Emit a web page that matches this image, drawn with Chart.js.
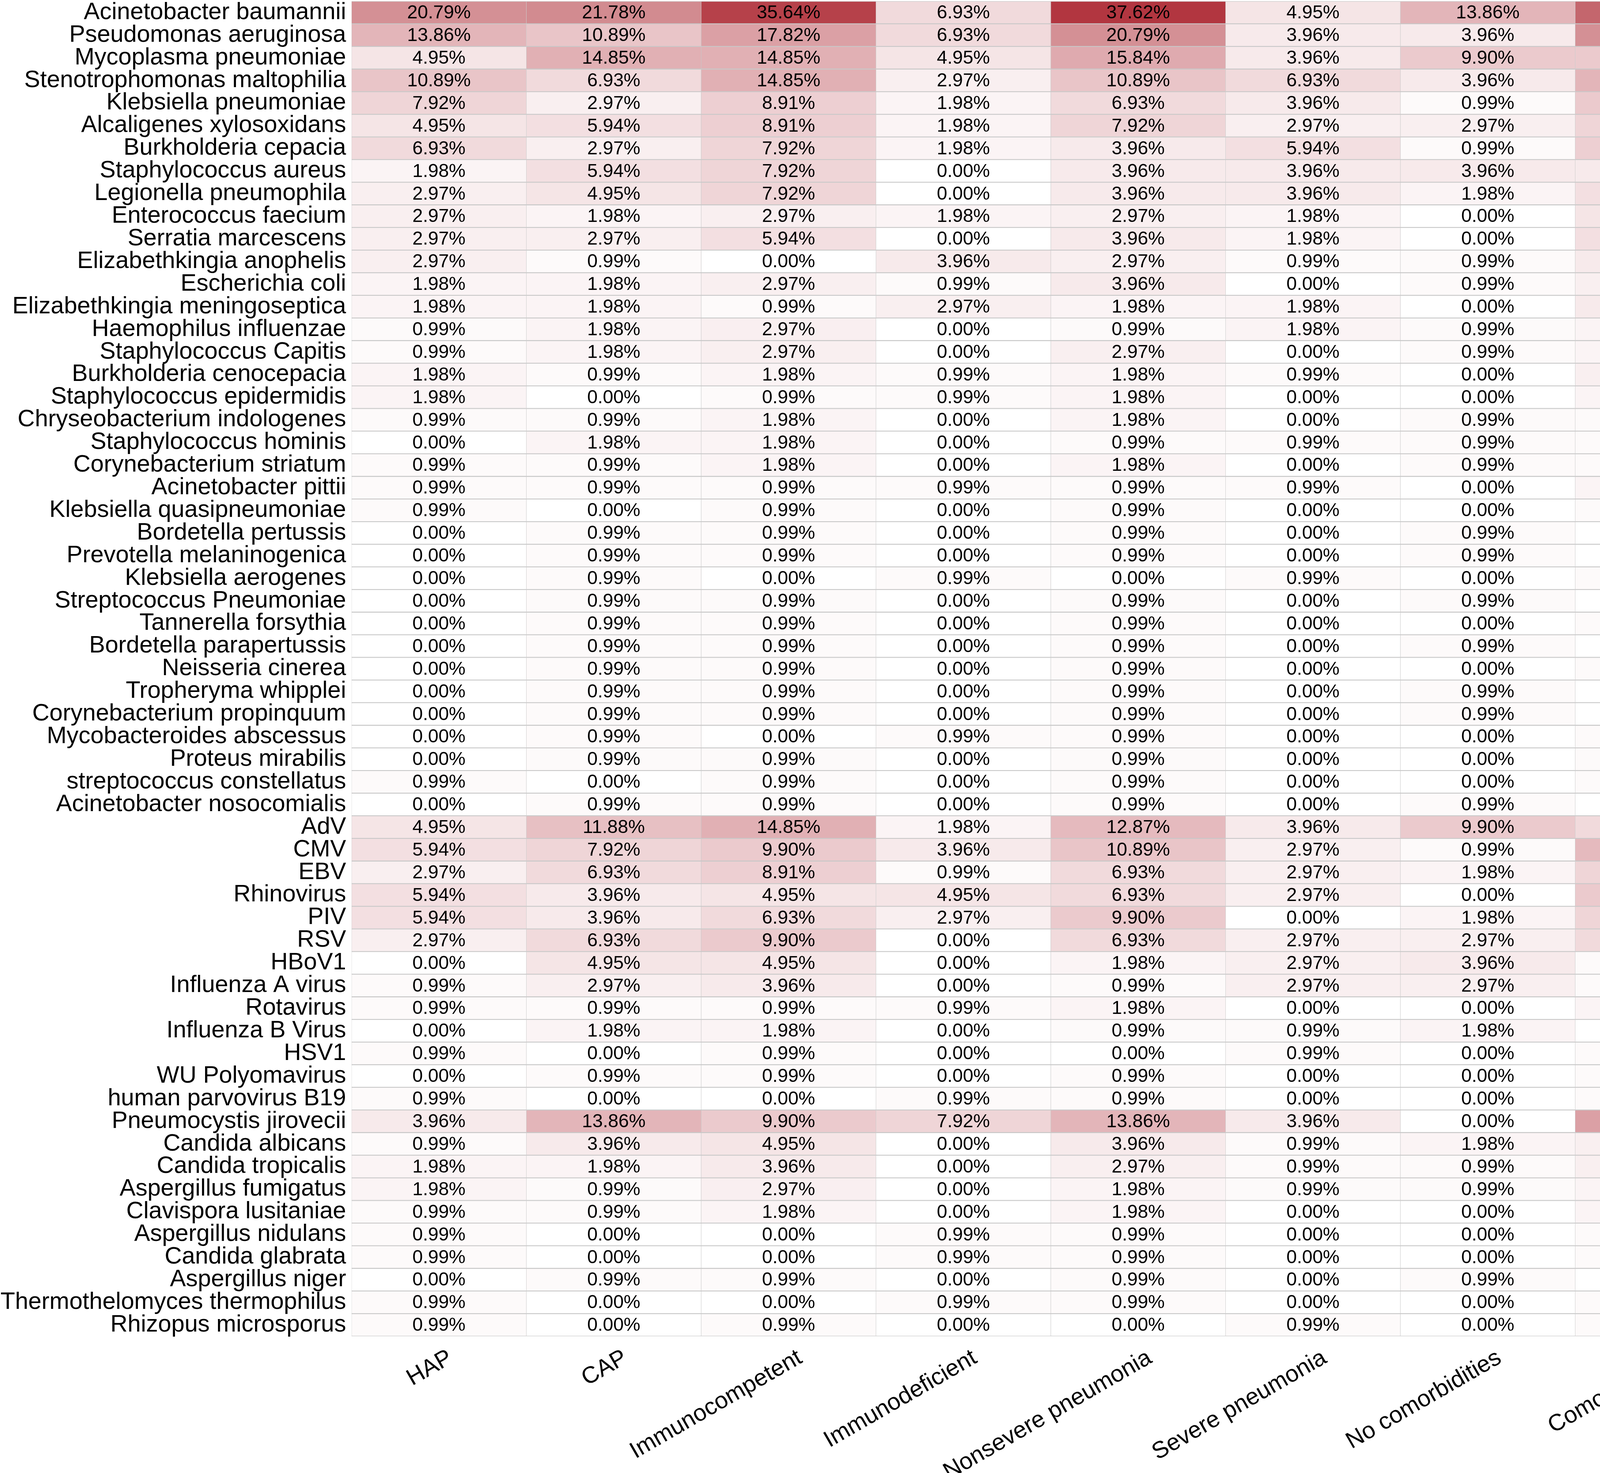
<!DOCTYPE html>
<html>
<head>
<meta charset="utf-8">
<script src="https://cdn.jsdelivr.net/npm/chart.js@4"></script>
<style>
  body { margin: 0; background: #fff; }
  canvas { display: block; }
</style>
</head>
<body>
<canvas id="heatmap" width="4630" height="3770"></canvas>
<script>
const species = [
  "Acinetobacter baumannii", "Pseudomonas aeruginosa", "Mycoplasma pneumoniae",
  "Stenotrophomonas maltophilia", "Klebsiella pneumoniae", "Alcaligenes xylosoxidans",
  "Burkholderia cepacia", "Staphylococcus aureus", "Legionella pneumophila",
  "Enterococcus faecium", "Serratia marcescens", "Elizabethkingia anophelis",
  "Escherichia coli", "Elizabethkingia meningoseptica", "Haemophilus influenzae",
  "Staphylococcus Capitis", "Burkholderia cenocepacia", "Staphylococcus epidermidis",
  "Chryseobacterium indologenes", "Staphylococcus hominis", "Corynebacterium striatum",
  "Acinetobacter pittii", "Klebsiella quasipneumoniae", "Bordetella pertussis",
  "Prevotella melaninogenica", "Klebsiella aerogenes", "Streptococcus Pneumoniae",
  "Tannerella forsythia", "Bordetella parapertussis", "Neisseria cinerea",
  "Tropheryma whipplei", "Corynebacterium propinquum", "Mycobacteroides abscessus",
  "Proteus mirabilis", "streptococcus constellatus", "Acinetobacter nosocomialis",
  "AdV", "CMV", "EBV", "Rhinovirus", "PIV", "RSV", "HBoV1", "Influenza A virus",
  "Rotavirus", "Influenza B Virus", "HSV1", "WU Polyomavirus", "human parvovirus B19",
  "Pneumocystis jirovecii", "Candida albicans", "Candida tropicalis",
  "Aspergillus fumigatus", "Clavispora lusitaniae", "Aspergillus nidulans",
  "Candida glabrata", "Aspergillus niger", "Thermothelomyces thermophilus",
  "Rhizopus microsporus"
];

const groups = ["HAP", "CAP", "Immunocompetent", "Immunodeficient",
  "Nonsevere pneumonia", "Severe pneumonia", "No comorbidities", "Comorbidities"];

// percentages, one array per column, rows in the order of species
const hap = [20.79, 13.86, 4.95, 10.89, 7.92, 4.95, 6.93, 1.98, 2.97, 2.97, 2.97, 2.97, 1.98, 1.98, 0.99, 0.99, 1.98, 1.98, 0.99, 0.00, 0.99, 0.99, 0.99, 0.00, 0.00, 0.00, 0.00, 0.00, 0.00, 0.00, 0.00, 0.00, 0.00, 0.00, 0.99, 0.00,
  4.95, 5.94, 2.97, 5.94, 5.94, 2.97, 0.00, 0.99, 0.99, 0.00, 0.99, 0.00, 0.99,
  3.96, 0.99, 1.98, 1.98, 0.99, 0.99, 0.99, 0.00, 0.99, 0.99];
const cap = [21.78, 10.89, 14.85, 6.93, 2.97, 5.94, 2.97, 5.94, 4.95, 1.98, 2.97, 0.99, 1.98, 1.98, 1.98, 1.98, 0.99, 0.00, 0.99, 1.98, 0.99, 0.99, 0.00, 0.99, 0.99, 0.99, 0.99, 0.99, 0.99, 0.99, 0.99, 0.99, 0.99, 0.99, 0.00, 0.99,
  11.88, 7.92, 6.93, 3.96, 3.96, 6.93, 4.95, 2.97, 0.99, 1.98, 0.00, 0.99, 0.00,
  13.86, 3.96, 1.98, 0.99, 0.99, 0.00, 0.00, 0.99, 0.00, 0.00];
const immunocompetent = [35.64, 17.82, 14.85, 14.85, 8.91, 8.91, 7.92, 7.92, 7.92, 2.97, 5.94, 0.00, 2.97, 0.99, 2.97, 2.97, 1.98, 0.99, 1.98, 1.98, 1.98, 0.99, 0.99, 0.99, 0.99, 0.00, 0.99, 0.99, 0.99, 0.99, 0.99, 0.99, 0.00, 0.99, 0.99, 0.99,
  14.85, 9.90, 8.91, 4.95, 6.93, 9.90, 4.95, 3.96, 0.99, 1.98, 0.99, 0.99, 0.00,
  9.90, 4.95, 3.96, 2.97, 1.98, 0.00, 0.00, 0.99, 0.00, 0.99];
const immunodeficient = [6.93, 6.93, 4.95, 2.97, 1.98, 1.98, 1.98, 0.00, 0.00, 1.98, 0.00, 3.96, 0.99, 2.97, 0.00, 0.00, 0.99, 0.99, 0.00, 0.00, 0.00, 0.99, 0.00, 0.00, 0.00, 0.99, 0.00, 0.00, 0.00, 0.00, 0.00, 0.00, 0.99, 0.00, 0.00, 0.00,
  1.98, 3.96, 0.99, 4.95, 2.97, 0.00, 0.00, 0.00, 0.99, 0.00, 0.00, 0.00, 0.99,
  7.92, 0.00, 0.00, 0.00, 0.00, 0.99, 0.99, 0.00, 0.99, 0.00];
const nonsevere = [37.62, 20.79, 15.84, 10.89, 6.93, 7.92, 3.96, 3.96, 3.96, 2.97, 3.96, 2.97, 3.96, 1.98, 0.99, 2.97, 1.98, 1.98, 1.98, 0.99, 1.98, 0.99, 0.99, 0.99, 0.99, 0.00, 0.99, 0.99, 0.99, 0.99, 0.99, 0.99, 0.99, 0.99, 0.99, 0.99,
  12.87, 10.89, 6.93, 6.93, 9.90, 6.93, 1.98, 0.99, 1.98, 0.99, 0.00, 0.99, 0.99,
  13.86, 3.96, 2.97, 1.98, 1.98, 0.99, 0.99, 0.99, 0.99, 0.00];
const severe = [4.95, 3.96, 3.96, 6.93, 3.96, 2.97, 5.94, 3.96, 3.96, 1.98, 1.98, 0.99, 0.00, 1.98, 1.98, 0.00, 0.99, 0.00, 0.00, 0.99, 0.00, 0.99, 0.00, 0.00, 0.00, 0.99, 0.00, 0.00, 0.00, 0.00, 0.00, 0.00, 0.00, 0.00, 0.00, 0.00,
  3.96, 2.97, 2.97, 2.97, 0.00, 2.97, 2.97, 2.97, 0.00, 0.99, 0.99, 0.00, 0.00,
  3.96, 0.99, 0.99, 0.99, 0.00, 0.00, 0.00, 0.00, 0.00, 0.99];
const noComorbidities = [13.86, 3.96, 9.90, 3.96, 0.99, 2.97, 0.99, 3.96, 1.98, 0.00, 0.00, 0.99, 0.99, 0.00, 0.99, 0.99, 0.00, 0.00, 0.99, 0.99, 0.99, 0.00, 0.00, 0.99, 0.99, 0.00, 0.99, 0.00, 0.99, 0.00, 0.99, 0.99, 0.00, 0.00, 0.00, 0.99,
  9.90, 0.99, 1.98, 0.00, 1.98, 2.97, 3.96, 2.97, 0.00, 1.98, 0.00, 0.00, 0.00,
  0.00, 1.98, 0.99, 0.99, 0.00, 0.00, 0.00, 0.99, 0.00, 0.00];
const comorbidities = [28.71, 20.79, 9.90, 13.86, 9.90, 7.92, 8.91, 3.96, 5.94, 4.95, 5.94, 3.96, 2.97, 3.96, 1.98, 1.98, 2.97, 1.98, 0.99, 0.99, 0.99, 1.98, 0.99, 0.00, 0.00, 0.99, 0.00, 0.99, 0.00, 0.99, 0.00, 0.00, 0.99, 0.99, 0.99, 0.00,
  6.93, 12.87, 7.92, 9.90, 7.92, 6.93, 0.99, 0.99, 1.98, 0.00, 0.99, 0.99, 0.99,
  17.82, 2.97, 2.97, 1.98, 1.98, 0.99, 0.99, 0.00, 0.99, 0.99];

const columns = [hap, cap, immunocompetent, immunodeficient, nonsevere, severe, noComorbidities, comorbidities];

const legendTicks = [0.0, 0.1, 0.2, 0.3];
const colorMax = 0.3762;

const low = [255, 255, 255];
const high = [178, 54, 64];
function heatColor(frac) {
  let t = Math.max(0, Math.min(1, frac / colorMax));
  let c = low.map((l, k) => Math.round(l + (high[k] - l) * t));
  return "rgb(" + c.join(",") + ")";
}

const FONT = "'Liberation Sans', Arial, sans-serif";

// writes the percentage inside every cell
const cellText = {
  id: "cellText",
  afterDatasetsDraw(chart) {
    const ctx = chart.ctx;
    ctx.save();
    ctx.font = "48px " + FONT;
    ctx.fillStyle = "#000";
    ctx.textAlign = "center";
    ctx.textBaseline = "middle";
    chart.data.datasets.forEach((ds, i) => {
      chart.getDatasetMeta(i).data.forEach((bar, j) => {
        const p = bar.getProps(["x", "y", "base"], true);
        ctx.fillText(ds.values[j].toFixed(2) + "%", (p.x + p.base) / 2, p.y + 2);
      });
    });
    ctx.restore();
  },
};

// colour bar at the top right
const colorBar = {
  id: "colorBar",
  afterDraw(chart) {
    const ctx = chart.ctx;
    const area = chart.chartArea;
    const x0 = area.right + 16;
    const w = 42;
    const top = area.top + 3;
    const h = 210;
    const grad = ctx.createLinearGradient(0, top + h, 0, top);
    for (let s = 0; s <= 10; s++) {
      grad.addColorStop(s / 10, heatColor((s / 10) * colorMax));
    }
    ctx.save();
    ctx.fillStyle = grad;
    ctx.fillRect(x0, top, w, h);
    ctx.font = "54px " + FONT;
    ctx.fillStyle = "#000";
    ctx.textAlign = "left";
    ctx.textBaseline = "middle";
    legendTicks.forEach((v) => {
      const y = top + h - (v / colorMax) * h;
      if (v > 0) {
        ctx.strokeStyle = "#fff";
        ctx.lineWidth = 3;
        ctx.beginPath();
        ctx.moveTo(x0, y); ctx.lineTo(x0 + 8, y);
        ctx.moveTo(x0 + w - 8, y); ctx.lineTo(x0 + w, y);
        ctx.stroke();
      }
      ctx.fillText(v.toFixed(1), x0 + w + 14, Math.min(y, top + h - 20) + 2);
    });
    ctx.restore();
  },
};

new Chart(document.getElementById("heatmap"), {
  type: "bar",
  data: {
    labels: species,
    datasets: groups.map((g, i) => ({
      label: g,
      data: species.map(() => 1),
      values: columns[i],
      backgroundColor: columns[i].map((v) => heatColor(v / 100)),
      borderColor: "#c8c8c8",
      borderWidth: { top: 1.5, bottom: 1.5, left: 0.8, right: 0.8 },
      borderSkipped: false,
      barPercentage: 1,
      categoryPercentage: 1,
    })),
  },
  options: {
    indexAxis: "y",
    responsive: false,
    devicePixelRatio: 1,
    animation: false,
    layout: { padding: { top: 3, right: 150, bottom: 0, left: 0 } },
    plugins: {
      legend: { display: false },
      tooltip: { enabled: false },
    },
    scales: {
      x: {
        type: "linear",
        stacked: true,
        min: 0,
        max: groups.length,
        grid: { display: false, drawTicks: false },
        border: { display: false },
        afterBuildTicks: (scale) => {
          scale.ticks = groups.map((g, i) => ({ value: i + 0.5 }));
        },
        afterFit: (scale) => {
          scale.height = 350;
          scale.paddingLeft = 0;
          scale.paddingRight = 0;
        },
        ticks: {
          autoSkip: false,
          minRotation: 30,
          maxRotation: 30,
          padding: 20,
          labelOffset: 30,
          color: "#000",
          font: { size: 60, family: FONT },
          callback: (value) => groups[Math.floor(value)],
        },
      },
      y: {
        stacked: true,
        grid: { display: false, drawTicks: false },
        border: { display: false },
        afterFit: (scale) => {
          scale.width = 900;
          scale.paddingTop = 0;
          scale.paddingBottom = 0;
        },
        ticks: {
          autoSkip: false,
          padding: 14,
          color: "#000",
          font: { size: 61, family: FONT },
        },
      },
    },
  },
  plugins: [cellText, colorBar],
});
</script>
</body>
</html>
